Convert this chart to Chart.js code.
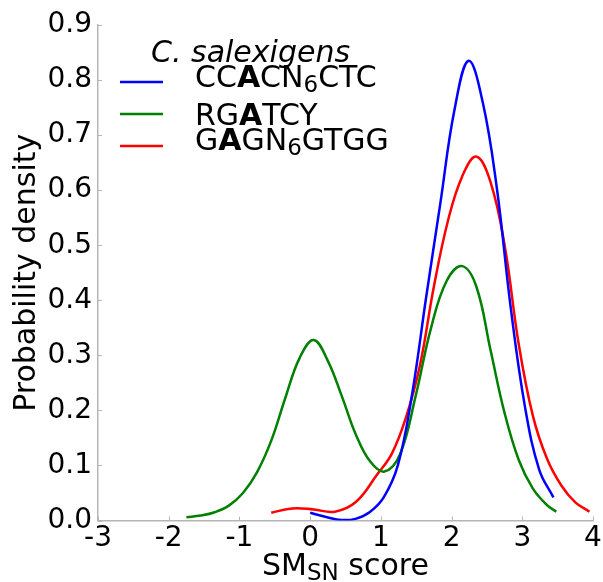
<!DOCTYPE html>
<html>
<head>
<meta charset="utf-8">
<script src="https://cdn.jsdelivr.net/npm/chart.js@4/dist/chart.umd.min.js"></script>
<style>
  html, body { margin: 0; padding: 0; background: #fff; }
</style>
</head>
<body>
<canvas id="kde" width="603" height="582"></canvas>
<script>
// KDE curves (x = SM_SN score, y = density)
const blueX = [0.0, 0.24, 0.44, 0.64, 0.84, 1.04, 1.24, 1.44, 1.64, 1.84, 2.04, 2.24, 2.44, 2.64, 2.84, 3.04, 3.24, 3.44];
const blueY = [0.014, 0.006, 0.001, 0.003, 0.015, 0.042, 0.1, 0.228, 0.405, 0.575, 0.745, 0.835, 0.76, 0.604, 0.383, 0.205, 0.092, 0.042];

const greenX = [-1.75, -1.55, -1.35, -1.15, -0.95, -0.75, -0.55, -0.35, -0.15, 0.05, 0.25, 0.45, 0.65, 0.85, 1.05, 1.27, 1.49, 1.71, 1.93, 2.15, 2.35, 2.55, 2.75, 2.95, 3.15, 3.35, 3.48];
const greenY = [0.006, 0.009, 0.015, 0.027, 0.05, 0.088, 0.145, 0.223, 0.295, 0.328, 0.29, 0.225, 0.155, 0.107, 0.089, 0.12, 0.225, 0.35, 0.435, 0.462, 0.425, 0.31, 0.195, 0.11, 0.058, 0.028, 0.016];

const redX = [-0.55, -0.25, 0.05, 0.35, 0.65, 0.95, 1.15, 1.35, 1.55, 1.75, 1.95, 2.15, 2.35, 2.55, 2.75, 2.95, 3.15, 3.35, 3.55, 3.75, 3.95];
const redY = [0.014, 0.022, 0.02, 0.016, 0.034, 0.084, 0.12, 0.185, 0.28, 0.425, 0.545, 0.625, 0.661, 0.615, 0.5, 0.32, 0.19, 0.112, 0.064, 0.033, 0.016];

const seriesLabels = ['CC<b>A</b>CN<sub>6</sub>CTC', 'RG<b>A</b>TCY', 'G<b>A</b>GN<sub>6</sub>GTGG'];
const seriesColors = ['#0000ff', '#008000', '#ff0000'];
const legendTitle = 'C. salexigens';

const xTickValues = [-3, -2, -1, 0, 1, 2, 3, 4];
const xTickLabels = ['-3', '-2', '-1', '0', '1', '2', '3', '4'];
const yTickValues = [0, 0.1, 0.2, 0.3, 0.4, 0.5, 0.6, 0.7, 0.8, 0.9];
const yTickLabels = ['0.0', '0.1', '0.2', '0.3', '0.4', '0.5', '0.6', '0.7', '0.8', '0.9'];

const xTitle = 'SM<sub>SN</sub> score';
const yTitle = 'Probability density';

const FONT = 'DejaVu Sans';
const AXIS_GREY = '#b5b5b5';

const toPoints = (xs, ys) => xs.map((x, i) => ({ x: x, y: ys[i] }));

// draw "text<b>bold</b><sub>sub</sub>" pieces one after another
function richParts(markup) {
  return markup.split(/(<b>.*?<\/b>|<sub>.*?<\/sub>)/).filter(s => s.length).map(s => {
    if (s.startsWith('<b>')) return { text: s.slice(3, -4), bold: true };
    if (s.startsWith('<sub>')) return { text: s.slice(5, -6), sub: true };
    return { text: s };
  });
}
function setPartFont(ctx, part, size) {
  const sz = part.sub ? Math.round(size * 0.75) : size;
  ctx.font = (part.bold ? 'bold ' : '') + sz + 'px "' + FONT + '"';
}
function richWidth(ctx, markup, size) {
  let w = 0;
  richParts(markup).forEach(p => { setPartFont(ctx, p, size); w += ctx.measureText(p.text).width; });
  return w;
}
function drawRich(ctx, markup, x, y, size) {
  richParts(markup).forEach(p => {
    setPartFont(ctx, p, size);
    ctx.fillText(p.text, x, p.sub ? y + size * 0.18 : y);
    x += ctx.measureText(p.text).width;
  });
}

const decorations = {
  id: 'decorations',
  afterDraw(chart) {
    const ctx = chart.ctx;
    const area = chart.chartArea;
    const xs = chart.scales.x, ys = chart.scales.y;
    ctx.save();

    // short inward ticks
    ctx.strokeStyle = AXIS_GREY;
    ctx.lineWidth = 1;
    ctx.beginPath();
    yTickValues.forEach(v => {
      const py = Math.round(ys.getPixelForValue(v)) + 0.5;
      ctx.moveTo(area.left, py); ctx.lineTo(area.left + 4, py);
    });
    xTickValues.forEach(v => {
      const px = Math.round(xs.getPixelForValue(v)) + 0.5;
      ctx.moveTo(px, area.bottom); ctx.lineTo(px, area.bottom - 4);
    });
    ctx.stroke();

    ctx.fillStyle = '#000';
    ctx.textBaseline = 'alphabetic';
    ctx.textAlign = 'left';

    // axis titles
    const tw = richWidth(ctx, xTitle, 30);
    drawRich(ctx, xTitle, (area.left + area.right) / 2 - tw / 2, 575, 30);

    ctx.save();
    ctx.translate(35, (area.top + area.bottom) / 2);
    ctx.rotate(-Math.PI / 2);
    ctx.font = '30px "' + FONT + '"';
    ctx.textAlign = 'center';
    ctx.fillText(yTitle, 0, 0);
    ctx.restore();

    // legend
    ctx.font = 'italic 30px "' + FONT + '"';
    ctx.fillText(legendTitle, area.left + 53, 62);
    const lineY = [82, 114, 146];
    const textY = [87, 125, 150];
    seriesLabels.forEach((lab, i) => {
      ctx.strokeStyle = seriesColors[i];
      ctx.lineWidth = 2.5;
      ctx.beginPath();
      ctx.moveTo(area.left + 22, lineY[i]);
      ctx.lineTo(area.left + 65, lineY[i]);
      ctx.stroke();
      drawRich(ctx, lab, area.left + 97, textY[i], 30);
    });
    ctx.restore();
  }
};

const lineStyle = color => ({
  borderColor: color,
  borderWidth: 2.5,
  pointRadius: 0,
  fill: false,
  tension: 0.4
});

new Chart(document.getElementById('kde'), {
  type: 'line',
  data: {
    datasets: [
      Object.assign({ label: 'CCACN6CTC', data: toPoints(blueX, blueY) }, lineStyle(seriesColors[0])),
      Object.assign({ label: 'RGATCY', data: toPoints(greenX, greenY) }, lineStyle(seriesColors[1])),
      Object.assign({ label: 'GAGN6GTGG', data: toPoints(redX, redY) }, lineStyle(seriesColors[2]))
    ]
  },
  options: {
    responsive: false,
    animation: false,
    layout: { padding: { left: 0, top: 25, right: 10, bottom: 0 } },
    plugins: { legend: { display: false }, tooltip: { enabled: false } },
    scales: {
      x: {
        type: 'linear',
        min: -3, max: 4,
        afterBuildTicks: s => { s.ticks = xTickValues.map(v => ({ value: v })); },
        afterFit: s => { s.height = 61.5; },
        grid: { display: false, drawTicks: false },
        border: { display: true, color: AXIS_GREY, width: 1.5 },
        ticks: {
          padding: 1,
          color: '#000',
          font: { family: FONT, size: 28 },
          maxRotation: 0,
          callback: (v, i) => xTickLabels[i]
        }
      },
      y: {
        type: 'linear',
        min: 0, max: 0.9,
        afterBuildTicks: s => { s.ticks = yTickValues.map(v => ({ value: v })); },
        afterFit: s => { s.width = 98; },
        grid: { display: false, drawTicks: false },
        border: { display: true, color: AXIS_GREY, width: 1.5 },
        ticks: {
          padding: 6,
          color: '#000',
          font: { family: FONT, size: 28 },
          callback: (v, i) => yTickLabels[i]
        }
      }
    }
  },
  plugins: [decorations]
});
</script>
</body>
</html>
